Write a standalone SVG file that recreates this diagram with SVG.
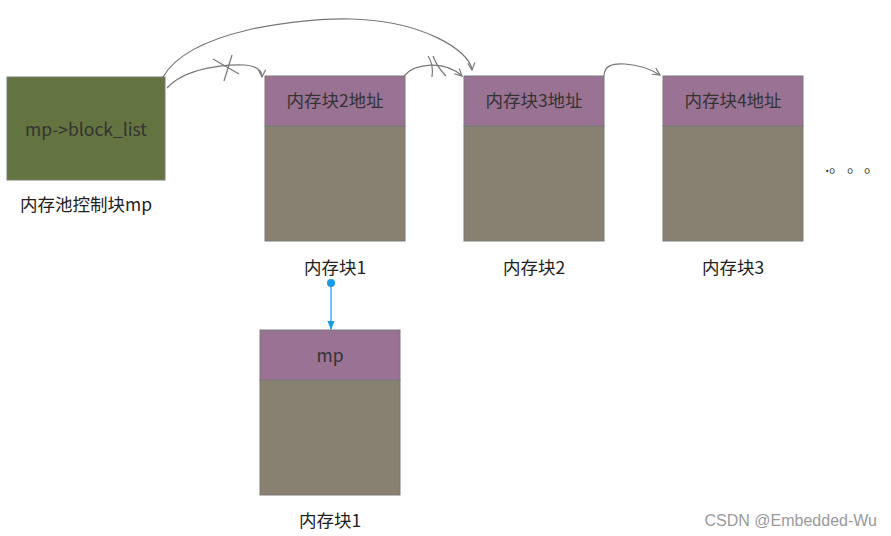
<svg xmlns="http://www.w3.org/2000/svg" width="891" height="536" viewBox="0 0 891 536">
<defs>
<style>
.hd{fill:#9a7294;stroke:#7a7a7a;stroke-width:1}
.bd{fill:#888070;stroke:#7a7a7a;stroke-width:1}
.t{font-family:"Noto Sans CJK SC","Noto Sans",sans-serif;font-size:17.5px;fill:#333;text-anchor:middle}
.lb{font-family:"Noto Sans CJK SC","Noto Sans",sans-serif;font-size:17.5px;fill:#222;text-anchor:middle}
.c{fill:none;stroke:#777;stroke-width:1.2}
</style>
<marker id="ah" viewBox="0 0 10 10" refX="9" refY="5" markerWidth="9" markerHeight="9" orient="auto" markerUnits="userSpaceOnUse">
<path d="M1,1 L9,5 L1,9" fill="none" stroke="#777" stroke-width="1.3"/>
</marker>
<marker id="bh" viewBox="0 0 10 10" refX="9" refY="5" markerWidth="9" markerHeight="9" orient="auto" markerUnits="userSpaceOnUse">
<path d="M0,1 L10,5 L0,9 z" fill="#1a9be8"/>
</marker>
</defs>
<rect width="891" height="536" fill="#fff"/>
<g id="ctrl">
<rect x="7" y="77" width="158" height="103" fill="#647440" stroke="#7a7a7a"/>
<text class="t" x="86" y="136">mp-&gt;block_list</text>
<text class="lb" x="86" y="211">内存池控制块mp</text>
</g>
<g id="block1">
<rect class="bd" x="265" y="126" width="140" height="115"/>
<rect class="hd" x="265" y="76" width="140" height="50"/>
<text class="t" x="335" y="107">内存块2地址</text>
<text class="lb" x="335" y="274">内存块1</text>
</g>
<g id="block2">
<rect class="bd" x="464" y="126" width="140" height="115"/>
<rect class="hd" x="464" y="76" width="140" height="50"/>
<text class="t" x="534" y="107">内存块3地址</text>
<text class="lb" x="534" y="274">内存块2</text>
</g>
<g id="block3">
<rect class="bd" x="663" y="126" width="140" height="115"/>
<rect class="hd" x="663" y="76" width="140" height="50"/>
<text class="t" x="733" y="107">内存块4地址</text>
<text class="lb" x="733" y="274">内存块3</text>
</g>
<g id="dots">
<text y="172" font-family="Noto Sans CJK SC, sans-serif" font-size="16" fill="#333"><tspan x="825">.</tspan><tspan x="829">。</tspan><tspan x="847">。</tspan><tspan x="864">。</tspan></text>
</g>
<g id="mpblock">
<rect class="bd" x="260" y="380" width="140" height="115"/>
<rect class="hd" x="260" y="330" width="140" height="50"/>
<text class="t" x="330" y="362">mp</text>
<text class="lb" x="330" y="527">内存块1</text>
</g>
<g id="connectors">
<path class="c" d="M167,88 C185,68 225,64 245,65 C255,66 262,70 262,77" marker-end="url(#ah)"/>
<path class="c" d="M213,59 L239,74 M232,55 L224,81"/>
<path class="c" d="M163,77 C190,30 300,18 350,19 C420,20 470,50 472,70" marker-end="url(#ah)"/>
<path class="c" d="M404,76 C415,63 445,60 462,76" marker-end="url(#ah)"/>
<path class="c" d="M428,56 C433,63 433,70 432,77 M433,56 C436,64 440,70 446,76"/>
<path class="c" d="M604,76 C604,66 612,63 625,64 C640,65 652,70 660,75" marker-end="url(#ah)"/>
<circle cx="331" cy="283" r="4" fill="#1a9be8"/>
<path d="M331,283 L331,329" stroke="#1a9be8" stroke-width="1.2" marker-end="url(#bh)"/>
</g>
<text x="877" y="526" font-family="Liberation Sans, Arial, sans-serif" font-size="16" fill="#9a9a9a" text-anchor="end">CSDN @Embedded-Wu</text>
</svg>
